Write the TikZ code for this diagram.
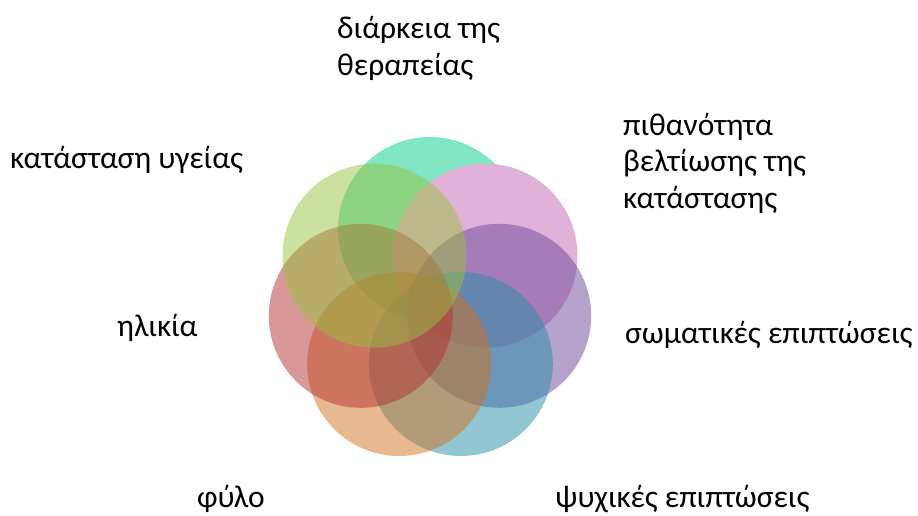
\documentclass[tikz,border=0pt]{standalone}
\usepackage{fontspec}
\setmainfont{Carlito}
\usepackage{xcolor}
\usepackage{tikz}
\usetikzlibrary{positioning}

\definecolor{tealc}{RGB}{1,205,137}
\definecolor{pinkc}{RGB}{224,178,216}
\definecolor{purplec}{RGB}{109,71,153}
\definecolor{cyanc}{RGB}{37,141,165}
\definecolor{orangec}{RGB}{209,113,33}
\definecolor{redc}{RGB}{177,49,49}
\definecolor{greenc}{RGB}{153,193,65}

\tikzset{
  petal/.style={circle,draw=none,inner sep=0pt,minimum size=184pt,fill opacity=0.5},
  lbl/.style={inner sep=0pt,anchor=base west,align=left,
    font=\fontsize{31.5}{36.5}\selectfont}
}

\begin{document}
\begin{tikzpicture}[x=1pt,y=-1pt]
\useasboundingbox (0,0) rectangle (918,515);
% the seven circles, clockwise from the top
\node[petal,fill=tealc] (teal) at (430,229) {};
\node[petal,fill=pinkc,fill opacity=1] (pink) at (485.5,255.7) {};
\node[petal,fill=purplec] (purple) at (499.2,315.8) {};
\node[petal,fill=cyanc] (cyan) at (460.8,364) {};
\node[petal,fill=orangec] (orange) at (399.2,364) {};
\node[petal,fill=redc] (red) at (360.8,315.8) {};
\node[petal,fill=greenc] (green) at (374.5,255.7) {};
% labels (multi-line ones sit on their last line)
\node[lbl] (dur) at (337,75) {διάρκεια της\\θεραπείας};
\node[lbl] (prob) at (623,208) {πιθανότητα\\βελτίωσης της\\κατάστασης};
\node[lbl] (health) at (10,168) {κατάσταση υγείας};
\node[lbl] (age) at (117,336) {ηλικία};
\node[lbl] (body) at (625,343) {σωματικές επιπτώσεις};
\node[lbl] (sex) at (197,507) {φύλο};
\node[lbl] (mind) at (555,507) {ψυχικές επιπτώσεις};
\end{tikzpicture}
\end{document}
